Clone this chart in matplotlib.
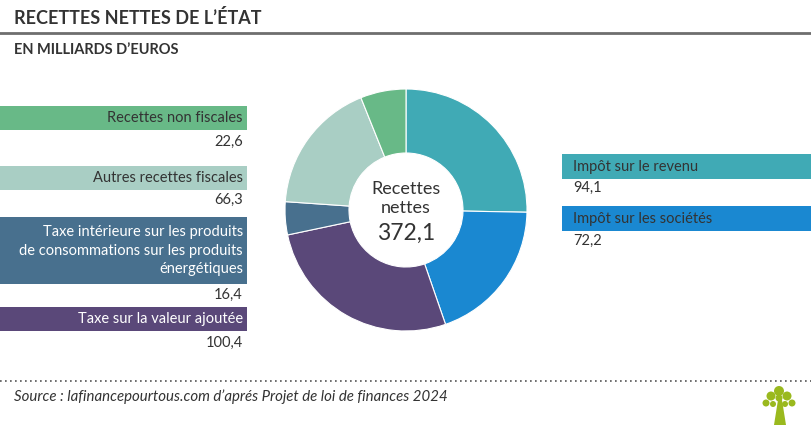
import matplotlib
matplotlib.use("Agg")
import matplotlib.pyplot as plt
from matplotlib.patches import Rectangle, Circle, Polygon

plt.rcParams['font.family'] = ['Lato', 'DejaVu Sans']

# data, clockwise from the top of the donut
categories = ["Impôt sur le revenu", "Impôt sur les sociétés", "Taxe sur la valeur ajoutée",
              "Taxe intérieure sur les produits\nde consommations sur les produits\nénergétiques",
              "Autres recettes fiscales", "Recettes non fiscales"]
values = [94.1, 72.2, 100.4, 16.4, 66.3, 22.6]
value_labels = ["94,1", "72,2", "100,4", "16,4", "66,3", "22,6"]
colors = ["#40aab5", "#1a88d1", "#5a4879", "#48708e", "#a9cec4", "#68b987"]
total_label = "372,1"

W, H = 812, 425
fig = plt.figure(figsize=(W / 100, H / 100), dpi=100)
ax = fig.add_axes([0, 0, 1, 1])

def Y(y):
    # pixel row (from top) to data y
    return H - y

# donut
ax.pie(values, colors=colors, startangle=90, counterclock=False,
       center=(406, Y(210)), radius=121,
       wedgeprops=dict(width=121 - 57, edgecolor="white", linewidth=0.8))
ax.set_xlim(0, W)
ax.set_ylim(0, H)
ax.set_aspect("auto")
ax.axis("off")

ax.text(406, Y(189), "Recettes", ha="center", va="center", fontsize=13, color="#333333")
ax.text(406, Y(208), "nettes", ha="center", va="center", fontsize=13, color="#333333")
ax.text(406, Y(233), total_label, ha="center", va="center", fontsize=16.5, color="#333333")

# title
ax.text(14, Y(18), "RECETTES NETTES DE L’ÉTAT", ha="left", va="center",
        fontsize=13, fontweight="bold", color="#333333")
ax.plot([0, W], [Y(33), Y(33)], color="#6e6e6e", lw=2)
ax.text(14, Y(50), "EN MILLIARDS D’EUROS", ha="left", va="center",
        fontsize=10.5, fontweight="bold", color="#333333")

# left legend boxes: (index, top, bottom, value y)
left = [(5, 106, 130, 142), (4, 166, 190, 200), (3, 217, 284, 295), (2, 307, 331, 343)]
for i, top, bot, vy in left:
    ax.add_patch(Rectangle((0, Y(bot)), 247, bot - top, color=colors[i], lw=0))
    tc = "white" if i in (2, 3) else "#333333"
    ax.text(243, Y((top + bot) / 2), categories[i], ha="right", va="center",
            fontsize=10.5, color=tc, linespacing=1.45)
    ax.text(243, Y(vy), value_labels[i], ha="right", va="center",
            fontsize=10.5, color="#333333")

# right legend boxes
right = [(0, 154, 179, 188), (1, 206, 231, 241)]
for i, top, bot, vy in right:
    ax.add_patch(Rectangle((562, Y(bot)), W - 562, bot - top, color=colors[i], lw=0))
    ax.text(573, Y((top + bot) / 2), categories[i], ha="left", va="center",
            fontsize=10.5, color="#333333")
    ax.text(573, Y(vy), value_labels[i], ha="left", va="center",
            fontsize=10.5, color="#333333")

# footer
ax.plot([0, W], [Y(381), Y(381)], color="#555555", lw=1.2, ls=(0, (1, 2)))
ax.text(14, Y(397), "Source : lafinancepourtous.com d’aprés Projet de loi de finances 2024",
        ha="left", va="center", fontsize=10.8, style="italic", color="#333333")

# little tree logo
green = "#9ab91e"
ax.add_patch(Polygon([(774, Y(425)), (786, Y(425)), (782, Y(400)), (778, Y(400))],
                     color=green, lw=0))
for cx, cy, r in [(779, 391, 5), (771, 396, 4.5), (787, 396, 4.5), (766, 403, 3.5),
                  (792, 403, 3.5), (773, 404, 3), (785, 404, 3), (779, 398, 3.5)]:
    ax.add_patch(Circle((cx, Y(cy)), r, color=green, lw=0))

fig.savefig("out.png", dpi=100)
